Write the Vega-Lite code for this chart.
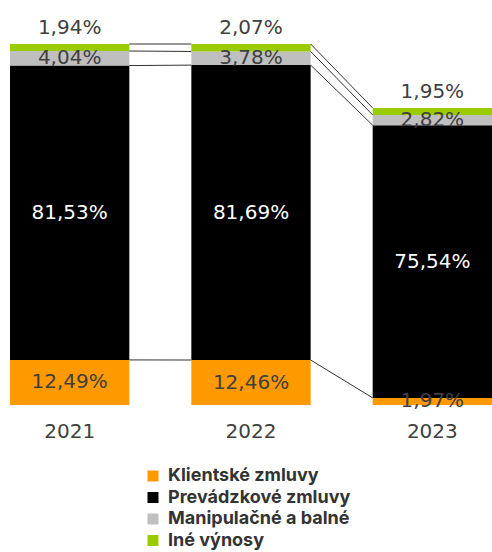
{
  "$schema": "https://vega.github.io/schema/vega-lite/v6.json",
  "width": 482,
  "height": 361,
  "autosize": {"type": "none"},
  "padding": {"left": 10, "top": 44, "right": 0, "bottom": 147},
  "config": {"view": {"stroke": null}},
  "datasets": {
    "segments": [
      {"year": "2021", "category": "Klientské zmluvy", "order": 1, "value": 12.49, "label": "12,49%"},
      {"year": "2021", "category": "Prevádzkové zmluvy", "order": 2, "value": 81.53, "label": "81,53%"},
      {"year": "2021", "category": "Manipulačné a balné", "order": 3, "value": 4.04, "label": "4,04%"},
      {"year": "2021", "category": "Iné výnosy", "order": 4, "value": 1.94, "label": "1,94%"},
      {"year": "2022", "category": "Klientské zmluvy", "order": 1, "value": 12.46, "label": "12,46%"},
      {"year": "2022", "category": "Prevádzkové zmluvy", "order": 2, "value": 81.69, "label": "81,69%"},
      {"year": "2022", "category": "Manipulačné a balné", "order": 3, "value": 3.78, "label": "3,78%"},
      {"year": "2022", "category": "Iné výnosy", "order": 4, "value": 2.07, "label": "2,07%"},
      {"year": "2023", "category": "Klientské zmluvy", "order": 1, "value": 1.97, "label": "1,97%"},
      {"year": "2023", "category": "Prevádzkové zmluvy", "order": 2, "value": 75.54, "label": "75,54%"},
      {"year": "2023", "category": "Manipulačné a balné", "order": 3, "value": 2.82, "label": "2,82%"},
      {"year": "2023", "category": "Iné výnosy", "order": 4, "value": 1.95, "label": "1,95%"}
    ],
    "connectors": [
      {"from": "2021", "to": "2022", "start": 12.49, "end": 12.46},
      {"from": "2021", "to": "2022", "start": 94.02, "end": 94.15},
      {"from": "2021", "to": "2022", "start": 98.06, "end": 97.93},
      {"from": "2021", "to": "2022", "start": 100.0, "end": 100.0},
      {"from": "2022", "to": "2023", "start": 12.46, "end": 1.97},
      {"from": "2022", "to": "2023", "start": 94.15, "end": 77.51},
      {"from": "2022", "to": "2023", "start": 97.93, "end": 80.33},
      {"from": "2022", "to": "2023", "start": 100.0, "end": 82.28}
    ]
  },
  "layer": [
    {
      "data": {"name": "segments"},
      "mark": {"type": "bar"},
      "encoding": {
        "x": {
          "field": "year", "type": "nominal",
          "scale": {"domain": ["2021", "2022", "2023"], "paddingInner": 0.342, "paddingOuter": 0},
          "axis": {"title": null, "domain": false, "ticks": false, "labelAngle": 0, "labelFont": "DejaVu Sans", "labelFontSize": 20, "labelColor": "#404040", "labelPadding": 16}
        },
        "y": {
          "field": "value", "type": "quantitative", "stack": "zero",
          "scale": {"domain": [0, 100], "nice": false, "zero": true},
          "axis": null
        },
        "order": {"field": "order", "type": "quantitative"},
        "color": {
          "field": "category", "type": "nominal",
          "scale": {
            "domain": ["Klientské zmluvy", "Prevádzkové zmluvy", "Manipulačné a balné", "Iné výnosy"],
            "range": ["#FF9900", "#000000", "#BFBFBF", "#99CC00"]
          },
          "legend": {
            "orient": "none", "legendX": 134, "legendY": 423, "title": null,
            "symbolType": "square", "symbolSize": 121, "symbolStrokeWidth": 0,
            "labelFont": "Inter", "labelFontWeight": "bold", "labelFontSize": 18,
            "labelColor": "#333333", "rowPadding": 3.5, "labelOffset": 6, "labelLimit": 320
          }
        }
      }
    },
    {
      "data": {"name": "connectors"},
      "mark": {"type": "rule", "color": "#333333", "strokeWidth": 1},
      "encoding": {
        "x": {"field": "from", "type": "nominal", "bandPosition": 1},
        "x2": {"field": "to", "bandPosition": 0},
        "y": {"field": "start", "type": "quantitative"},
        "y2": {"field": "end"}
      }
    },
    {
      "data": {"name": "segments"},
      "mark": {"type": "text", "font": "DejaVu Sans", "fontSize": 20, "baseline": "middle", "align": "center"},
      "encoding": {
        "x": {"field": "year", "type": "nominal", "bandPosition": 0.5},
        "y": {"field": "value", "type": "quantitative", "stack": "zero", "bandPosition": 0.5},
        "order": {"field": "order", "type": "quantitative"},
        "text": {"condition": {"test": "datum.order === 4", "value": ""}, "field": "label"},
        "color": {"condition": {"test": "datum.order === 2", "value": "#FFFFFF"}, "value": "#404040"}
      }
    },
    {
      "data": {"name": "segments"},
      "transform": [
        {"stack": "value", "groupby": ["year"], "sort": [{"field": "order", "order": "ascending"}], "as": ["v0", "v1"]},
        {"filter": "datum.order === 4"}
      ],
      "mark": {"type": "text", "font": "DejaVu Sans", "fontSize": 20, "baseline": "alphabetic", "align": "center", "dy": -10, "color": "#404040"},
      "encoding": {
        "x": {"field": "year", "type": "nominal", "bandPosition": 0.5},
        "y": {"field": "v1", "type": "quantitative"},
        "text": {"field": "label"}
      }
    }
  ]
}
